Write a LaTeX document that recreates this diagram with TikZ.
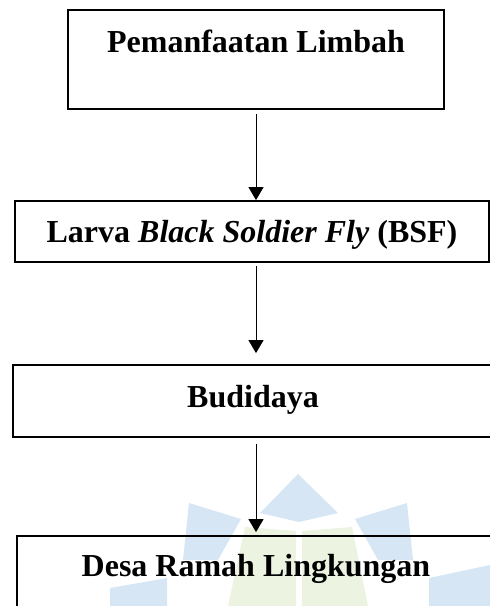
\documentclass[tikz,border=0pt]{standalone}
\usepackage{fontspec}
\setmainfont{Liberation Serif}
\definecolor{wmbleu}{RGB}{214,230,244}
\definecolor{wmvert}{RGB}{236,243,224}
\usetikzlibrary{arrows.meta}

\begin{document}
\begin{tikzpicture}[x=1pt,y=-1pt,
		kotak/.style={draw,line width=1.8pt,inner sep=0pt,anchor=base,
			font=\bfseries\fontsize{32}{38}\selectfont},
		panah/.style={-{Triangle[width=15pt,length=13pt]},line width=0.9pt}]
	
	\useasboundingbox (0,0) rectangle (490,606);
	
	% watermark
	\fill[wmbleu] (298,474)--(338,513)--(299,522)--(260,513)--cycle;
	\fill[wmbleu] (355,519)--(407,503)--(413,560)--(378,560)--cycle;
	\fill[wmbleu] (241,519)--(189,503)--(183,560)--(218,560)--cycle;
	\fill[wmbleu] (429,578)--(490,565)--(490,606)--(429,606)--cycle;
	\fill[wmbleu] (167,578)--(110,588)--(110,606)--(167,606)--cycle;
	\fill[wmvert] (245,527)--(296,531)--(296,606)--(228,606)--cycle;
	\fill[wmvert] (302,531)--(352,527)--(368,606)--(302,606)--cycle;
	
	\node[kotak,minimum width=376pt,text height=42pt,text depth=57pt]
	(limbah) at (256,52) {Pemanfaatan Limbah};
	
	\node[kotak,minimum width=474pt,text height=41pt,text depth=20pt]
	(larva) at (252,242) {Larva \textit{Black Soldier Fly} (BSF)};
	
	\node[kotak,minimum width=480pt,text height=42pt,text depth=30pt]
	(budidaya) at (253,407) {Budidaya};
	
	\node[kotak,minimum width=478pt,text height=40pt,text depth=60pt]
	(desa) at (256,576) {Desa Ramah Lingkungan};
	
	\draw[panah,shorten <=4pt] (limbah.south) -- (limbah.south |- larva.north);
	\draw[panah,shorten <=3pt,shorten >=11pt] (limbah.south |- larva.south) -- (limbah.south |- budidaya.north);
	\draw[panah,shorten <=6pt,shorten >=3pt] (limbah.south |- budidaya.south) -- (limbah.south |- desa.north);
	
\end{tikzpicture}
\end{document}
